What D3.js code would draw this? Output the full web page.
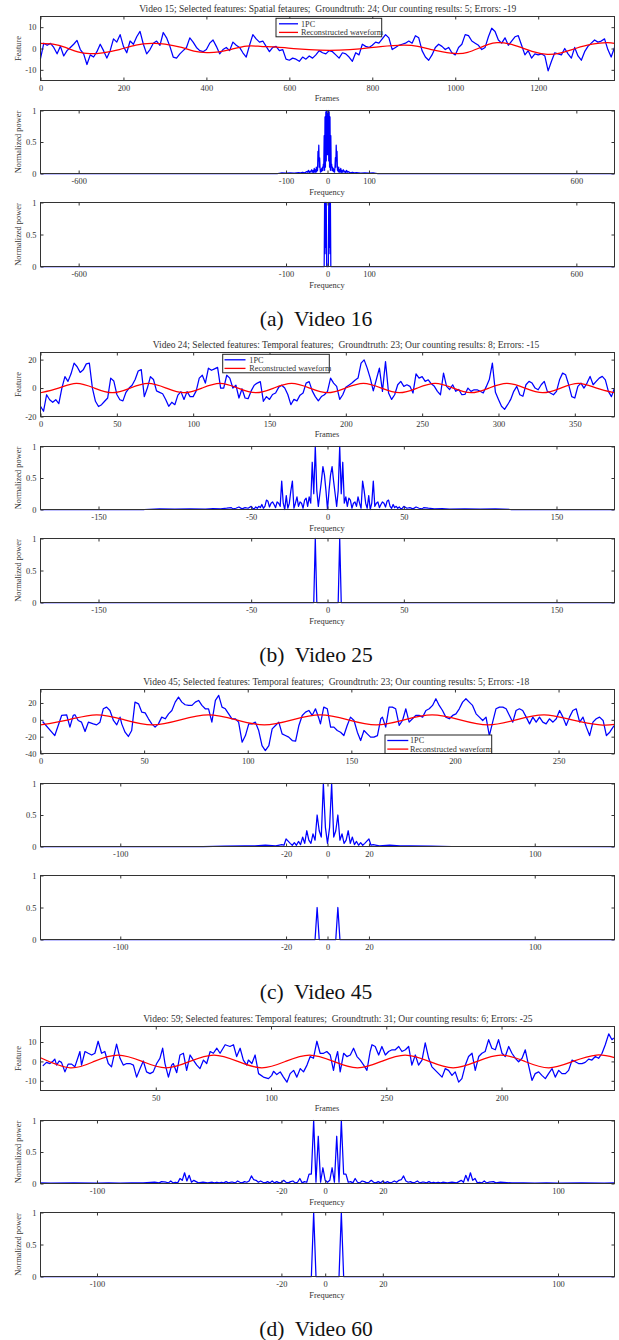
<!DOCTYPE html>
<html>
<head>
<meta charset="utf-8">
<script src="https://cdn.jsdelivr.net/npm/d3@7"></script>
<style>
  body { margin: 0; background: #fff; }
  svg text { font-family: "Liberation Serif", "Times New Roman", serif; fill: #333; }
</style>
</head>
<body>
<div id="fig"></div>
<script>
// ---------- text ----------
var titles = [
  "Video 15; Selected features: Spatial fetaures;  Groundtruth: 24; Our counting results: 5; Errors: -19",
  "Video 24; Selected features: Temporal features;  Groundtruth: 23; Our counting results: 8; Errors: -15",
  "Video 45; Selected features: Temporal features;  Groundtruth: 23; Our counting results: 5; Errors: -18",
  "Video: 59; Selected features: Temporal features;  Groundtruth: 31; Our counting results: 6; Errors: -25"
];
var captions = ["(a)  Video 16", "(b)  Video 25", "(c)  Video 45", "(d)  Video 60"];
var legendLabels = ["1PC", "Reconstructed waveform"];

// ---------- ticks ----------
var frameTicksA = [0, 200, 400, 600, 800, 1000, 1200];
var frameTicksB = [0, 50, 100, 150, 200, 250, 300, 350];
var frameTicksC = [0, 50, 100, 150, 200, 250];
var frameTicksD = [50, 100, 150, 200];
var frameLabelsD = ["50", "100", "250", "200"];
var freqTicksA = [-600, -100, 0, 100, 600];
var freqTicksB = [-150, -50, 0, 50, 150];
var freqTicksC = [-100, -20, 0, 20, 100];
var freqTicksD = [-100, -20, -1, 24, 100];
var freqLabelsD = ["-100", "-20", "0", "20", "100"];
var featTicksA = [-10, 0, 10];
var featTicksB = [-20, 0, 20];
var featTicksC = [-40, -20, 0, 20];
var featTicksD = [-10, 0, 10];
var powerTicks = [0, 0.5, 1];
var powerLabels = ["0", "0.5", "1"];

// ---------- Video 15 (a): 1PC every 8 frames ----------
var blueAStep = 8;
var blueA = [-4.8,2.5,1.5,2.4,0.5,-2.5,1.0,-3.5,-1.0,0.5,
  2.0,3.8,-0.5,-2.5,-7.5,-3.0,-4.0,-1.5,2.0,-1.0,
  -4.5,-1.0,4.5,3.0,6.5,1.0,-2.0,3.5,2.0,5.5,
  8.0,2.0,-2.5,-0.5,2.5,3.5,1.5,7.5,5.0,1.0,
  -4.0,-4.5,-2.5,-1.0,0.5,5.0,3.0,0.5,-1.0,-1.5,
  -0.5,2.5,4.0,1.0,-2.5,-0.5,0.5,-1.0,3.0,1.5,
  0.5,-2.0,-4.0,1.5,6.5,4.5,3.0,3.5,1.0,-1.5,
  0.5,1.0,-1.0,-0.5,-5.0,-5.5,-4.5,-5.0,-6.0,-4.0,
  -5.0,-3.5,-4.5,-3.0,-1.0,-2.0,-2.5,-1.0,-1.5,-3.0,
  -4.5,-2.0,-2.5,-4.0,-6.0,-2.0,-3.0,2.0,1.0,0.5,
  1.5,3.0,2.5,4.5,6.5,5.0,-0.5,0.5,1.5,2.0,
  2.5,3.5,2.5,6.0,5.0,-1.0,-4.0,-5.5,-3.0,0.5,
  2.0,1.0,-0.5,0.5,-2.0,-3.0,0.5,2.0,6.5,6.0,
  3.5,2.5,1.5,-0.5,0.5,5.5,9.5,8.0,4.0,2.5,
  5.0,1.5,3.5,5.5,6.0,1.5,-3.0,-1.0,-4.5,-2.5,
  -3.0,-2.5,-3.5,-10.5,-6.0,-2.0,-2.5,-3.0,0.0,-2.5,
  -4.5,0.5,-3.5,-5.5,-1.5,1.0,2.5,4.0,3.0,3.5,
  4.5,-0.5,-4.0,0.5];
var redA = [[0,2.4],[30,2.0],[60,0.5],[90,-1.6],[119,-2.4],[150,-2.0],[190,-0.5],[230,1.6],[268,2.4],
  [300,2.1],[340,0.5],[370,-1.2],[401,-1.9],[430,-1.6],[460,-0.4],[497,1.1],[530,1.0],[570,0.6],
  [620,-0.2],[674,-0.8],[720,-0.8],[770,-0.2],[820,0.9],[875,1.6],[910,1.0],[940,-0.4],[970,-1.6],
  [1004,-2.4],[1030,-1.8],[1055,0.0],[1080,1.9],[1101,2.7],[1130,2.2],[1160,0.4],[1190,-1.6],
  [1222,-2.7],[1255,-2.0],[1290,0.0],[1330,2.0],[1366,2.7],[1384,2.4]];
// half spectra: [frequency, normalized power], mirrored for negative frequencies
var specA1 = [[0,0.95],[1,0.3],[2,1.0],[3,0.2],[4,0.98],[5,0.1],[6,0.9],[7,0.05],[8,0.6],[9,0.1],
  [10,0.15],[11,0.05],[12,0.1],[13,0.04],[14,0.08],[15,0.03],[16,0.06],[17,0.02],[18,0.1],[19,0.25],
  [20,0.1],[21,0.45],[22,0.2],[23,0.35],[24,0.05],[25,0.08],[26,0.03],[27,0.1],[28,0.02],[29,0.06],
  [30,0.02],[31,0.04],[32,0.08],[33,0.02],[34,0.05],[35,0.01],[36,0.03],[38,0.06],[40,0.02],[42,0.04],
  [44,0.01],[46,0.05],[48,0.02],[50,0.03],[55,0.01],[60,0.02],[65,0.01],[70,0.015],[80,0.005],
  [90,0.01],[100,0.005],[110,0.01],[120,0],[692,0]];
var specA2 = [[0,0],[2,0],[3,1],[4,0.3],[5,1],[6,0.2],[7,1],[8,0],[692,0]];

// ---------- Video 24 (b): 1PC every 2 frames ----------
var blueBStep = 2;
var blueB = [-12.8,-16.3,-4.7,-8.2,-10,-8.2,-11,0,8,4.7,
  10,17.5,15,11,12.8,17,17.5,0,-9.3,-13,
  -11.7,-9.3,-7,7,5,-4.5,-8.2,-9,-3,0,
  2,6,12,13,-6,0,8,6,-2,-3,
  -4,-8,-12.8,-10,-11.7,-5,-2.5,-8,-2.5,-6,
  -6,-2,7,9,3.5,14,12.5,13.5,14.5,0,
  0,9,7,0,2,-7,-0.5,-7,-7.5,-2,
  2,3.5,4.5,-9.3,-6,-8,-4.5,-3.5,0.5,2,
  0,-4.5,-11.7,-8,-9,-5,-3.5,3.5,4.5,-2,
  -6,-9,-6,-4.7,-2.3,7,3.5,1.2,-8,-4.7,
  0.5,2,3.5,5.5,7,17.5,19.8,14,7,-2,
  6,14,-2.3,18.6,-3.5,-8,-4.7,2.3,4.7,1.2,
  2.3,1.2,-3.5,10,7,8,4.7,5.8,3,1.2,
  -2.3,-4.7,10.5,1.2,-1,2.3,-2.3,-1,-4.7,-4.5,
  0,-2.3,-1.2,-1.2,-2.3,-3.5,1,6,17.5,-3,
  -8,-12.8,-15,-11.7,-8,-2.3,1.2,-4.7,-5.8,2.3,
  4.7,3.5,0,-1.2,2.3,4.7,-2.3,-3.5,-4.7,-2.3,
  5.8,10.5,9.3,2.3,-6,-7,1.2,3.5,0,3.5,
  8.2,2.3,4.7,7,8.2,5.8,-2.3,-6,0];
var redB = [[0,-3.3],[11.8,0],[23.5,3.3],[35.3,0],[47,-3.3],[58.8,0],[70.5,3.3],[82.3,0],[94,-3.3],
  [105.8,0],[117.5,3.3],[129.3,0],[141,-3.3],[152.8,0],[164.5,3.3],[176.3,0],[188,-3.3],[199.8,0],
  [211.5,3.3],[223.3,0],[235,-3.3],[246.8,0],[258.5,3.3],[270.3,0],[282,-3.3],[293.8,0],[305.5,3.3],
  [317.3,0],[329,-3.3],[340.8,0],[352.5,3.3],[364.3,0],[376,-3.3]];
var specB1 = [[0,0],[1,0.3],[2,0.55],[3,0.68],[4,0.45],[5,0.25],[6,0.05],[7,0.3],[8,1],[9,0.25],
  [10,0.75],[11,0.1],[12,0.2],[13,0.05],[14,0.18],[15,0.15],[16,0.02],[17,0.1],[18,0.12],[19,0.05],
  [20,0.2],[21,0.1],[22,0.02],[23,0.45],[24,0.3],[25,0.1],[26,0.02],[27,0.22],[28,0],[29,0.1],
  [30,0.45],[31,0.05],[32,0.1],[33,0.12],[34,0.03],[35,0.08],[36,0.12],[37,0.1],[38,0.04],[39,0.13],
  [40,0.15],[41,0.05],[42,0.02],[43,0.08],[44,0.03],[45,0.05],[46,0.02],[47,0.04],[48,0.01],[49,0.02],
  [50,0.05],[52,0.02],[54,0.03],[56,0.01],[58,0.04],[60,0.02],[62,0.01],[63,0.03],[66,0.02],[70,0.01],
  [75,0.015],[80,0.005],[90,0.01],[100,0.005],[110,0.01],[120,0],[188,0]];
var specB2 = [[0,0],[7,0],[8,1],[9,0],[188,0]];

// ---------- Video 45 (c): 1PC [frame, value] ----------
var blueC = [[1,-2.0],[6.9,-18.7],[10.2,5.2],[12.6,6.0],[14.2,-8.7],[15.8,5.2],[16.6,6.0],[18.2,-0.8],
  [19.8,-2.8],[21.5,-13.9],[23.1,-2.8],[25.5,-4.8],[27.1,-6.0],[28.7,-2.8],[30.3,13.1],[31.9,15.1],
  [33.5,11.1],[35.2,-0.8],[36.8,-6.0],[38.4,3.2],[39.2,-4.8],[40.8,-14.7],[42.4,-19.8],[44.0,-12.7],
  [45.6,21.0],[47.3,19.0],[48.9,9.1],[50.5,8.3],[52.1,1.2],[53.7,-4.8],[55.3,-8.7],[56.9,-4.8],
  [58.5,3.2],[60.2,1.2],[61.8,7.1],[63.4,11.1],[65.0,21.0],[66.6,27.0],[68.2,21.0],[69.8,17.9],
  [71.5,17.1],[73.1,17.1],[74.7,21.0],[76.3,23.0],[77.9,17.1],[79.5,13.1],[81.1,13.1],[82.7,-2.8],
  [84.4,23.0],[86.0,29.0],[87.6,15.1],[89.2,13.1],[90.8,7.1],[92.4,1.2],[94.0,1.2],[95.6,-2.8],
  [97.3,-26.6],[98.9,-18.7],[100.5,-4.8],[102.1,-4.8],[103.7,-2.8],[105.3,-12.7],[106.9,-30.6],
  [108.5,-36.5],[110.2,-30.6],[111.8,-10.7],[113.4,-6.7],[115.0,-2.8],[116.6,-16.7],[118.2,-18.7],
  [119.8,-20.6],[121.5,-24.6],[123.1,-25.4],[124.7,-6.7],[126.3,5.2],[127.9,9.1],[129.5,11.1],
  [131.1,5.2],[132.7,13.1],[134.4,1.2],[135.1,-4.8],[136.7,15.1],[138.4,13.1],[140.0,-8.7],
  [141.6,-8.7],[143.2,-12.7],[144.8,-14.7],[146.4,-18.7],[148.0,-6.7],[149.6,3.2],[151.3,-0.8],
  [152.9,-14.7],[154.5,-24.6],[156.1,-12.7],[157.7,-16.7],[159.3,-20.6],[160.9,-20.6],[162.6,-18.7],
  [164.2,1.2],[165.0,3.2],[166.6,-8.7],[168.2,15.1],[169.8,15.1],[171.4,13.1],[173.1,-6.7],
  [174.7,-0.8],[176.3,13.1],[177.9,-2.8],[179.5,1.2],[181.1,5.2],[182.7,5.2],[184.4,3.2],[186.0,11.1],
  [187.6,13.1],[189.2,17.1],[190.8,25.0],[192.4,17.1],[194.0,11.1],[195.6,3.2],[197.3,1.2],
  [198.9,5.2],[200.5,7.1],[202.1,13.1],[203.7,21.0],[205.3,25.0],[206.9,21.0],[208.5,17.1],
  [210.2,7.1],[211.8,3.2],[213.4,-0.8],[215.0,3.2],[216.6,-18.7],[218.2,-2.8],[219.8,13.1],
  [221.5,15.1],[223.1,15.1],[224.7,13.1],[226.3,5.2],[227.9,-2.8],[229.5,11.1],[231.1,13.1],
  [232.7,11.1],[234.4,3.2],[236.0,-4.8],[237.6,3.2],[239.2,-2.8],[240.8,3.2],[242.4,-2.8],
  [244.0,-4.8],[245.6,1.2],[247.3,-2.8],[248.9,1.2],[250.5,11.1],[252.1,3.2],[253.7,-6.7],
  [255.3,3.2],[256.9,11.1],[258.5,13.1],[260.2,-2.8],[261.8,3.2],[263.4,-8.7],[265.0,-18.7],
  [266.6,-2.8],[268.2,1.2],[269.8,3.2],[271.5,-0.8],[273.1,-18.7],[274.7,-14.7],[276.3,-8.7],
  [277,-6.7]];
var redC = [[0,-6],[13.5,0],[27,6],[40.5,0],[54,-6],[67.5,0],[81,6],[94.5,0],[108,-6],[121.5,0],
  [135,6],[148.5,0],[162,-6],[175.5,0],[189,6],[202.5,0],[216,-6],[229.5,0],[243,6],[256.5,0],
  [270,-6],[277,-5.4]];
var specC1 = [[0,0.05],[1,0.3],[2,1.0],[3,0.15],[4,0.25],[5,0.5],[6,0.1],[7,0.2],[8,0.05],[9,0.1],
  [10,0.25],[11,0.05],[12,0.15],[13,0.03],[14,0.08],[15,0.02],[16,0.06],[17,0.02],[18,0.05],
  [20,0.12],[21,0.02],[22,0.03],[25,0.01],[30,0.02],[35,0.01],[40,0.01],[50,0.005],[60,0],[138.5,0]];
var specC2 = [[0,0],[4,0],[5,0.5],[6,0],[138.5,0]];

// ---------- Video 59 (d): 1PC [frame, value] ----------
var blueD = [[1,-2.3],[2.6,-0.5],[4.1,-1.1],[5.5,0.2],[6.2,1.2],[7,-1.9],[8.1,0.2],[9.1,-0.5],
  [10.6,-5.4],[12,-1.4],[13.5,-1.4],[14.9,-2.8],[16.4,2.5],[17.1,5.1],[17.8,-1.9],[19.3,5.1],
  [20.7,4.2],[22.2,3.3],[23.6,4.2],[25,10.4],[26.5,4.2],[27.9,5.1],[29.4,-1.1],[30.8,-2.8],
  [33,8.9],[34.5,1.6],[35.9,-1.9],[37.4,-1.1],[38.8,-1.1],[40.3,-1.9],[41.7,-8.1],[43.2,-3.7],
  [44.6,0.2],[46,-5.4],[47.5,-6.3],[48.9,-5.4],[50.4,-1.1],[51.8,1.6],[53,6.8],[54,-1.1],
  [55.5,-8.1],[56.9,-1.9],[57.6,-1.1],[59.1,-5.8],[60.5,3.3],[62,4.2],[63.4,-4.6],[64.9,3.3],
  [66.3,0.7],[67.8,-1.9],[69.2,-3.7],[70.7,0.7],[72.1,-1.1],[73.6,5.1],[75,4.2],[76.5,6.8],
  [77.9,4.2],[80.1,8.6],[82.2,7.7],[83.7,8.6],[85.1,2.5],[86.6,6.8],[88,0.7],[89.5,-1.9],
  [90.2,0.7],[91.7,-1.1],[93.1,3.3],[94.6,-6.3],[96.7,-8.1],[98.9,-8.9],[100.3,-7.2],[101.1,-5.1],
  [102.5,-6.8],[104,-5.4],[105.4,-8.1],[106.9,-10.7],[108.3,-6.3],[109.8,-4.6],[111.2,-8.1],
  [112.7,-3.7],[114.1,-5.4],[115.6,-1.9],[117,2.5],[118.4,1.6],[119.9,10.4],[121.3,4.2],
  [122.8,4.2],[124.2,5.1],[125.7,3.3],[127.1,-4.6],[127.9,0.7],[128.9,5.1],[130,-5.4],[131.5,4.2],
  [132.9,2.5],[134.4,3.3],[135.8,6.8],[137.3,2.5],[138.7,0.7],[140.2,-1.9],[141.6,-4.6],[143,5.1],
  [143.8,8.6],[145.2,7.7],[146.7,3.3],[148.1,7.7],[149.6,3.3],[151,5.1],[152.5,6.0],[153.9,6.0],
  [155.4,7.7],[156.8,5.1],[158.3,6.0],[159.7,7.7],[161.1,-1.9],[162.6,3.3],[164,-1.9],[165.5,0.7],
  [166.9,9.5],[168.4,1.6],[169.8,-2.8],[171.3,-4.6],[172.7,-6.3],[174.2,-8.1],[175.6,-3.7],
  [177,-4.6],[178.5,-7.2],[179.9,-5.4],[181.4,-10.7],[182.8,-8.9],[184.3,-1.9],[185.7,2.5],
  [187.2,4.2],[188.6,-4.6],[190.1,2.5],[191.5,4.2],[192.9,5.1],[194.4,11.2],[195.8,6.8],[197.3,6.0],
  [198.7,11.2],[200.2,4.2],[201.6,2.5],[203.1,7.7],[204.5,4.2],[206,1.6],[207.4,-0.2],[208.9,1.6],
  [210.3,6.0],[211.7,-1.9],[213.2,-9.8],[214.6,-6.3],[216.1,-5.4],[217.5,-7.2],[219,-8.9],
  [220.4,-6.3],[221.9,-3.7],[223.3,-8.1],[224.8,-4.6],[226.2,-6.3],[227.7,-6.3],[229.1,-4.6],
  [230.6,0.7],[232,-0.2],[233.4,-1.1],[234.9,-1.1],[236.3,-0.5],[237.8,1.2],[239.2,0.7],[240.7,2.5],
  [242.1,1.6],[243.6,4.2],[245,8.6],[246.5,14.2],[247.9,11.2],[248.7,12.1]];
var redD = [[0,1.9],[12.9,-3.3],[23.3,0],[33.7,3.3],[44.1,0],[54.4,-3.3],[64.8,0],[75.2,3.3],[85.6,0],
  [96,-3.3],[106.3,0],[116.7,3.3],[127.1,0],[137.5,-3.3],[147.9,0],[158.2,3.3],[168.6,0],[179,-3.3],
  [189.4,0],[199.7,3.3],[210.1,0],[220.5,-3.3],[230.9,0],[241.2,3.3],[249,1.9]];
var specD1 = [[0,0.02],[1,0.05],[2,0.25],[3,0.02],[4,0.75],[5,0.02],[6,1.0],[7,0.15],[8,0.15],[9,0.02],
  [10,0.03],[11,0.01],[12,0.08],[13,0.02],[14,0.01],[15,0.04],[16,0.03],[17,0.01],[18,0.02],[19,0.05],
  [20,0.02],[21,0.01],[22,0.03],[23,0.01],[24,0.04],[25,0.01],[26,0.03],[27,0.01],[28,0.02],[29,0.04],
  [30,0.02],[31,0.05],[32,0.06],[33,0.12],[34,0.04],[35,0.02],[36,0.03],[37,0.01],[38,0.02],[39,0.04],
  [40,0.01],[41,0.02],[42,0.02],[43,0.01],[44,0.03],[45,0.01],[46,0.02],[47,0.01],[48,0.02],[49,0.01],
  [50,0.02],[52,0.01],[54,0.02],[56,0.01],[58,0.05],[59,0.02],[60,0.13],[61,0.04],[62,0.17],[63,0.05],
  [64,0.08],[65,0.01],[66,0.02],[67,0.01],[68,0.04],[69,0.01],[70,0.02],[72,0.03],[73,0.01],[75,0.02],
  [80,0.01],[85,0.01],[90,0.005],[95,0.01],[100,0.005],[110,0.01],[120,0.005],[124.5,0.01]];
var specD2 = [[0,0],[5,0],[6,1],[7,0],[124.5,0]];

// ---------- layout ----------
var W = 619, H = 1340;
var X0 = 40.5, X1 = 614.5;
var BLUE = "#0000ff", RED = "#ff0000", INK = "#333";

var svg = d3.select("#fig").append("svg")
    .attr("width", W)
    .attr("height", H);

function mirror(half) {
  var neg = half.filter(function(d){ return d[0] > 0; })
      .map(function(d){ return [-d[0], d[1]]; })
      .reverse();
  return neg.concat(half);
}

function stepped(vals, step) {
  return vals.map(function(v, i){ return [i * step, v]; });
}

function boxAxes(g, x, y, xt, xl, yt, yl) {
  var yb = y.range()[0], yt0 = y.range()[1];
  var fmtX = function(d, i){ return xl ? xl[i] : String(d); };
  var fmtY = function(d, i){ return yl ? yl[i] : String(d); };
  g.append("g").attr("transform", "translate(0," + yb + ")")
    .call(d3.axisBottom(x).tickValues(xt).tickFormat(fmtX).tickSizeInner(-3).tickSizeOuter(0).tickPadding(5));
  g.append("g").attr("transform", "translate(0," + yt0 + ")")
    .call(d3.axisTop(x).tickValues(xt).tickFormat("").tickSizeInner(-3).tickSizeOuter(0));
  g.append("g").attr("transform", "translate(" + X0 + ",0)")
    .call(d3.axisLeft(y).tickValues(yt).tickFormat(fmtY).tickSizeInner(-3).tickSizeOuter(0).tickPadding(4));
  g.append("g").attr("transform", "translate(" + X1 + ",0)")
    .call(d3.axisRight(y).tickValues(yt).tickFormat("").tickSizeInner(-3).tickSizeOuter(0));
  g.selectAll(".domain").remove();
  g.selectAll(".tick line").attr("stroke", INK);
  g.selectAll(".tick text").style("font-size", "8.4px");
  g.append("rect")
    .attr("x", X0).attr("y", yt0)
    .attr("width", X1 - X0).attr("height", yb - yt0)
    .attr("fill", "none").attr("stroke", INK).attr("stroke-width", 1);
}

function drawLine(g, pts, x, y, color, curve) {
  var line = d3.line()
      .x(function(d){ return x(d[0]); })
      .y(function(d){ return y(d[1]); });
  if (curve) line.curve(curve);
  g.append("path")
    .datum(pts)
    .attr("d", line)
    .attr("fill", "none")
    .attr("stroke", color)
    .attr("stroke-width", 1.25)
    .attr("stroke-linejoin", "round");
}

function label(g, txt, x, y, rot) {
  var t = g.append("text")
    .attr("text-anchor", "middle")
    .style("font-size", "8.4px")
    .text(txt);
  if (rot) t.attr("transform", "translate(" + x + "," + y + ") rotate(-90)");
  else t.attr("x", x).attr("y", y);
}

function drawPanel(p) {
  var g = svg.append("g").attr("transform", "translate(0," + p.oy + ")");

  // title, sized to the measured width
  var t = g.append("text")
    .attr("x", p.titleX).attr("y", 12.2)
    .style("font-size", "10px")
    .style("white-space", "pre")
    .text(p.title);
  var len = t.node().getComputedTextLength();
  t.style("font-size", (10 * p.titleW / len) + "px");

  // time series
  var x = d3.scaleLinear().domain(p.frames).range([X0, X1]);
  var y = d3.scaleLinear().domain(p.yDom).range([80.5, 16.5]);
  drawLine(g, p.blue, x, y, BLUE);
  drawLine(g, p.red, x, y, RED, d3.curveNatural);
  boxAxes(g, x, y, p.xTicks, p.xLabels, p.yTicks, null);

  if (p.labels) {
    label(g, "Frames", 327, 101);
    label(g, "Feature", 21, 48.5, true);
  }

  if (p.legend) {
    var L = p.legend;
    var lg = g.append("g");
    lg.append("rect")
      .attr("x", L.x).attr("y", L.y).attr("width", L.w).attr("height", 18.5)
      .attr("fill", "#fff").attr("stroke", "#222").attr("stroke-width", 1);
    [BLUE, RED].forEach(function(c, i){
      var yy = L.y + 5.5 + i * 8.6;
      lg.append("line")
        .attr("x1", L.l0).attr("x2", L.l1).attr("y1", yy).attr("y2", yy)
        .attr("stroke", c).attr("stroke-width", 1.3);
      lg.append("text")
        .attr("x", L.tx).attr("y", yy + 2.8)
        .style("font-size", "8.2px")
        .text(legendLabels[i]);
    });
  }

  // spectra
  var f = d3.scaleLinear().domain([-p.half, p.half]).range([X0, X1]);
  [[p.spec1, 110.5, 173.5], [p.spec2, 202.5, 266.5]].forEach(function(s){
    var py = d3.scaleLinear().domain([0, 1]).range([s[2], s[1]]);
    drawLine(g, mirror(s[0]), f, py, BLUE);
    boxAxes(g, f, py, p.fTicks, p.fLabels, powerTicks, powerLabels);
    if (p.labels) {
      label(g, "Frequency", 327, s[2] + 21);
      label(g, "Normalized power", 21, (s[1] + s[2]) / 2, true);
    }
  });

  // caption
  g.append("text")
    .attr("x", 316).attr("y", 326)
    .attr("text-anchor", "middle")
    .style("font-size", "21.5px")
    .style("fill", "#111")
    .style("white-space", "pre")
    .text(p.caption);
}

var panels = [
  { oy: 0, title: titles[0], titleX: 139.3, titleW: 377.4, caption: captions[0],
    frames: [0, 1384], yDom: [-15, 15], xTicks: frameTicksA, xLabels: null, yTicks: featTicksA,
    blue: stepped(blueA, blueAStep), red: redA, half: 692, fTicks: freqTicksA, fLabels: null,
    spec1: specA1, spec2: specA2, labels: true,
    legend: { x: 276, y: 18.3, w: 105.7, l0: 279, l1: 298, tx: 301 } },
  { oy: 336, title: titles[1], titleX: 152.7, titleW: 387.3, caption: captions[1],
    frames: [0, 376], yDom: [-20, 25], xTicks: frameTicksB, xLabels: null, yTicks: featTicksB,
    blue: stepped(blueB, blueBStep), red: redB, half: 188, fTicks: freqTicksB, fLabels: null,
    spec1: specB1, spec2: specB2, labels: true,
    legend: { x: 222.7, y: 18.3, w: 106.6, l0: 224.5, l1: 245.5, tx: 249.3 } },
  { oy: 673, title: titles[2], titleX: 143.3, titleW: 386.7, caption: captions[2],
    frames: [0, 277], yDom: [-40, 36], xTicks: frameTicksC, xLabels: null, yTicks: featTicksC,
    blue: blueC, red: redC, half: 138.5, fTicks: freqTicksC, fLabels: null,
    spec1: specC1, spec2: specC2, labels: false,
    legend: { x: 385, y: 62, w: 106.7, l0: 387.3, l1: 408.3, tx: 410 } },
  { oy: 1010, title: titles[3], titleX: 143.3, titleW: 390, caption: captions[3],
    frames: [0, 249], yDom: [-15, 18], xTicks: frameTicksD, xLabels: frameLabelsD, yTicks: featTicksD,
    blue: blueD, red: redD, half: 124.5, fTicks: freqTicksD, fLabels: freqLabelsD,
    spec1: specD1, spec2: specD2, labels: true, legend: null }
];

panels.forEach(drawPanel);
</script>
</body>
</html>
